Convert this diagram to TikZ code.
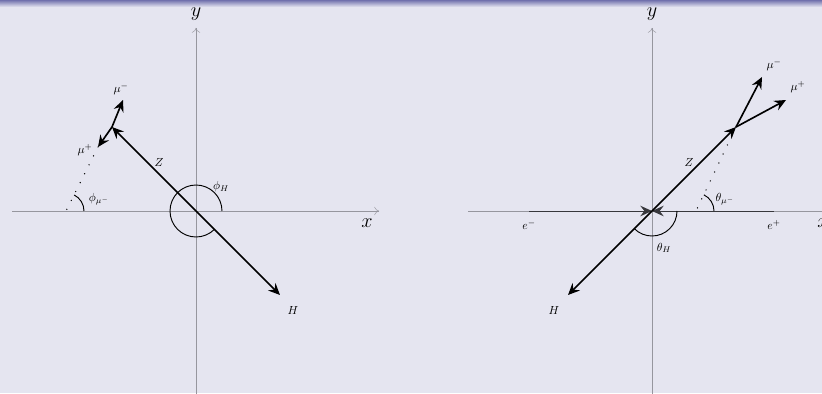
\documentclass[tikz,border=0pt]{standalone}
\usetikzlibrary{arrows.meta,calc}

\definecolor{slidebg}{RGB}{229,229,240}
\definecolor{slidebar}{RGB}{112,112,172}
\definecolor{axisgray}{RGB}{150,150,158}
\definecolor{beamgray}{RGB}{55,55,60}

\newcommand*{\axmin}{-184}
\newcommand*{\axmax}{183}
\newcommand*{\aymin}{-190}
\newcommand*{\aymax}{183}

\begin{document}
\begin{tikzpicture}
[
	x=0.03cm,
	y=0.03cm,
	axis/.style={axisgray,thin,-{To[length=4pt,width=7pt]}},
	vec/.style={line width=1.4pt,-{Stealth[length=10pt,width=9pt,inset=3.5pt]}},
	beam/.style={beamgray,thick,-{Stealth[length=10pt,width=9pt,inset=3.5pt]}},
	angarc/.style={thick},
	dotline/.style={very thick,dash pattern=on 0pt off 8.5pt,line cap=round},
	lbl/.style={inner sep=0pt}
]

	% slide background
	\useasboundingbox (0,0) rectangle (822,393);
	\clip (0,0) rectangle (822,393);
	\fill[slidebg] (0,0) rectangle (822,393);
	\shade[top color=slidebar,bottom color=slidebg] (0,386) rectangle (822,393);

	% left: azimuthal view
	\begin{scope}[shift={(196,182)}]
		% axes
		\coordinate (lxa) at (\axmin,0);
		\coordinate (lxb) at (\axmax,0);
		\coordinate (lya) at (0,\aymin);
		\coordinate (lyb) at (0,\aymax);
		\draw[axis] (lxa) -- (lxb);
		\draw[axis] (lya) -- (lyb);
		\node[lbl,font=\LARGE] (lxl) at (171,-12) {$x$};
		\node[lbl,font=\LARGE] (lyl) at (0,197) {$y$};

		% vectors
		\coordinate (lO) at (0,0);
		\coordinate (lZ) at (-84,84);
		\coordinate (lH) at (84,-84);
		\coordinate (lmum) at (-73,111);
		\coordinate (lmup) at (-98,64);
		\coordinate (lP) at (-130,0);
		\draw[vec] (lO) -- (lZ);
		\draw[vec] (lO) -- (lH);
		\draw[vec] (lZ) -- (lmum);
		\draw[vec] (lZ) -- (lmup);
		\draw[dotline] (lmup) -- (lP);

		% angles
		\draw[angarc] (26,0) arc (0:315:26);
		\draw[angarc] ($(lP)+(18,0)$) arc (0:63:18);

		% labels
		\node[lbl] (lZl) at (-37,49) {$Z$};
		\node[lbl] (lHl) at (97,-99) {$H$};
		\node[lbl] (lmuml) at (-75,122) {$\mu^-$};
		\node[lbl] (lmupl) at (-111,61) {$\mu^+$};
		\node[lbl] (lphiH) at (25,24) {$\phi_H$};
		\node[lbl] (lphimu) at (-97,12) {$\phi_{\mu^-}$};
	\end{scope}

	% right: polar view
	\begin{scope}[shift={(652,182)}]
		% axes
		\coordinate (rxa) at (\axmin,0);
		\coordinate (rxb) at (\axmax,0);
		\coordinate (rya) at (0,\aymin);
		\coordinate (ryb) at (0,\aymax);
		\draw[axis] (rxa) -- (rxb);
		\draw[axis] (rya) -- (ryb);
		\node[lbl,font=\LARGE] (rxl) at (171,-12) {$x$};
		\node[lbl,font=\LARGE] (ryl) at (0,197) {$y$};

		% beams
		\coordinate (rO) at (0,0);
		\coordinate (rem) at (-123,0);
		\coordinate (rep) at (122,0);
		\draw[beam] (rem) -- (rO);
		\draw[beam] (rep) -- (rO);

		% vectors
		\coordinate (rZ) at (84,84);
		\coordinate (rH) at (-84,-84);
		\coordinate (rmum) at (110,134);
		\coordinate (rmup) at (134,111);
		\coordinate (rP) at (44,0);
		\draw[vec] (rO) -- (rZ);
		\draw[vec] (rO) -- (rH);
		\draw[vec] (rZ) -- (rmum);
		\draw[vec] (rZ) -- (rmup);
		\draw[dotline] (rZ) -- (rP);

		% angles
		\draw[angarc] (25,0) arc (0:-135:25);
		\draw[angarc] ($(rP)+(18,0)$) arc (0:64:18);

		% labels
		\node[lbl] (rZl) at (37,49) {$Z$};
		\node[lbl] (rHl) at (-98,-99) {$H$};
		\node[lbl] (rmuml) at (122,146) {$\mu^-$};
		\node[lbl] (rmupl) at (146,124) {$\mu^+$};
		\node[lbl] (reml) at (-123,-14) {$e^-$};
		\node[lbl] (repl) at (122,-14) {$e^+$};
		\node[lbl] (rthH) at (12,-37) {$\theta_H$};
		\node[lbl] (rthmu) at (73,12) {$\theta_{\mu^-}$};
	\end{scope}

\end{tikzpicture}
\end{document}
